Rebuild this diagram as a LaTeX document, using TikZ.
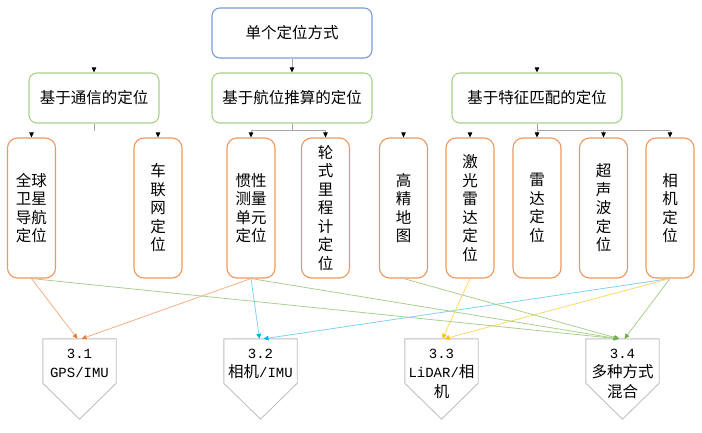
\documentclass[tikz,border=0pt]{standalone}
\usepackage{fontspec}
\setmainfont{Noto Sans CJK SC}
\newfontfamily\monofont{Liberation Mono}
\usetikzlibrary{arrows.meta}

\definecolor{topblue}{HTML}{7A9BD8}
\definecolor{grpgreen}{HTML}{A9D18E}
\definecolor{leaforange}{HTML}{F0965E}
\definecolor{pentgray}{HTML}{BFBFBF}
\definecolor{treegray}{HTML}{A6A6A6}
\definecolor{lnorange}{HTML}{F4B183}
\definecolor{tiporange}{HTML}{ED7D31}
\definecolor{lnblue}{HTML}{7FD3F5}
\definecolor{tipblue}{HTML}{00B0F0}
\definecolor{lnyellow}{HTML}{FFD966}
\definecolor{tipyellow}{HTML}{FFC000}
\definecolor{lngreen}{HTML}{A9D18E}
\definecolor{tipgreen}{HTML}{70AD47}

\tikzset{
  txt/.style={font=\fontsize{15.5}{18.5}\selectfont},
  topbox/.style={txt, draw=topblue, line width=1.1pt, rounded corners=8pt,
    minimum width=160pt, minimum height=50pt, inner sep=0pt},
  grpbox/.style={txt, draw=grpgreen, line width=1.1pt, rounded corners=8pt,
    minimum height=50pt, inner sep=0pt},
  leafbox/.style={txt, draw=leaforange, line width=1.1pt, rounded corners=10pt,
    minimum width=48pt, minimum height=140pt, inner sep=0pt, align=center},
  pentbase/.style={minimum width=73pt, minimum height=44pt, inner sep=0pt},
  pentline/.style={draw=pentgray, line width=0.9pt},
  penttext/.style={font=\fontsize{15.5}{19.5}\selectfont, align=center, inner sep=0pt, anchor=north},
  treeline/.style={draw=treegray, line width=0.8pt},
  treearrow/.style={treeline, -{Triangle[length=5pt,width=4.5pt,color=black]}},
  cor/.style={draw=lnorange, line width=0.8pt, -{Triangle[length=5pt,width=4.5pt,color=tiporange]}},
  cbl/.style={draw=lnblue, line width=0.8pt, -{Triangle[length=5pt,width=4.5pt,color=tipblue]}},
  cye/.style={draw=lnyellow, line width=0.8pt, -{Triangle[length=5pt,width=4.5pt,color=tipyellow]}},
  cgr/.style={draw=lngreen, line width=0.8pt, -{Triangle[length=5pt,width=4.5pt,color=tipgreen]}},
}
\newcommand{\mn}[1]{{\monofont\fontsize{14}{19.5}\selectfont #1}}

\begin{document}
\begin{tikzpicture}[x=1pt, y=-1pt]
  \useasboundingbox (0,0) rectangle (702,432);

  % root
  \node[topbox] (top) at (292,33) {单个定位方式};

  % second level
  \node[grpbox, minimum width=130pt] (g1) at (94,98) {基于通信的定位};
  \node[grpbox, minimum width=160pt] (g2) at (292,98) {基于航位推算的定位};
  \node[grpbox, minimum width=170pt] (g3) at (537,98) {基于特征匹配的定位};

  % third level
  \node[leafbox] (l1) at (31.5,208) {全球\\卫星\\导航\\定位};
  \node[leafbox] (l2) at (158,208) {车\\联\\网\\定\\位};
  \node[leafbox] (l3) at (251,208) {惯性\\测量\\单元\\定位};
  \node[leafbox] (l4) at (325.5,208) {轮\\式\\里\\程\\计\\定\\位};
  \node[leafbox] (l5) at (403.5,208) {高\\精\\地\\图};
  \node[leafbox] (l6) at (470,208) {激\\光\\雷\\达\\定\\位};
  \node[leafbox] (l7) at (537,208) {雷\\达\\定\\位};
  \node[leafbox] (l8) at (603.5,208) {超\\声\\波\\定\\位};
  \node[leafbox] (l9) at (670,208) {相\\机\\定\\位};

  % bottom pentagons
  \foreach \n/\cx in {p1/79.5, p2/260.5, p3/441.5, p4/622.5}{
    \node[pentbase] (\n) at (\cx,361) {};
    \draw[pentline] (\n.north west) -- (\n.north east) -- (\n.south east)
      -- ([yshift=-36pt]\n.south) -- (\n.south west) -- cycle;
  }
  \node[penttext] (t1) at ([yshift=-10pt]p1.north) {\mn{3.1}\\\mn{GPS/IMU}};
  \node[penttext] (t2) at ([yshift=-10pt]p2.north) {\mn{3.2}\\相机\mn{/IMU}};
  \node[penttext] (t3) at ([yshift=-10pt]p3.north) {\mn{3.3}\\\mn{LiDAR/}相\\机};
  \node[penttext] (t4) at ([yshift=-10pt]p4.north) {\mn{3.4}\\多种方式\\混合};

  % tree connectors
  \draw[treearrow] (top.south) -- (g2.north);
  \draw[treearrow] ([yshift=4pt]g1.north) -- (g1.north);
  \draw[treearrow] ([yshift=4pt]g3.north) -- (g3.north);

  \draw[treeline] (g1.south) -- ++(0,7) coordinate (b1);
  \draw[treearrow] ([yshift=4pt]l1.north) -- (l1.north);
  \draw[treearrow] ([yshift=4pt]l2.north) -- (l2.north);

  \draw[treeline] (g2.south) -- ++(0,7) coordinate (b2);
  \draw[treeline] (l3.north |- b2) -- (l4.north |- b2);
  \draw[treearrow] (l3.north |- b2) -- (l3.north);
  \draw[treearrow] (l4.north |- b2) -- (l4.north);

  \draw[treeline] (g3.south) -- ++(0,7) coordinate (b3);
  \draw[treeline] (l7.north |- b3) -- (l9.north |- b3);
  \draw[treearrow] ([yshift=4pt]l5.north) -- (l5.north);
  \draw[treearrow] ([yshift=4pt]l6.north) -- (l6.north);
  \draw[treearrow] (l7.north |- b3) -- (l7.north);
  \draw[treearrow] (l8.north |- b3) -- (l8.north);
  \draw[treearrow] (l9.north |- b3) -- (l9.north);

  % combinations
  \draw[cor] (l1.south) -- ([xshift=-2pt]p1.north);
  \draw[cor] (l3.south) -- ([xshift=2pt]p1.north);
  \draw[cbl] (l3.south) -- ([xshift=-1pt]p2.north);
  \draw[cbl] (l9.south) -- ([xshift=3pt]p2.north);
  \draw[cye] (l6.south) -- ([xshift=1pt]p3.north);
  \draw[cye] (l9.south) -- ([xshift=3pt]p3.north);
  \draw[cgr] (l1.south) -- ([xshift=-4pt]p4.north);
  \draw[cgr] (l3.south) -- ([xshift=-4pt]p4.north);
  \draw[cgr] (l5.south) -- ([xshift=-3pt]p4.north);
  \draw[cgr] (l9.south) -- ([xshift=2pt]p4.north);
\end{tikzpicture}
\end{document}
